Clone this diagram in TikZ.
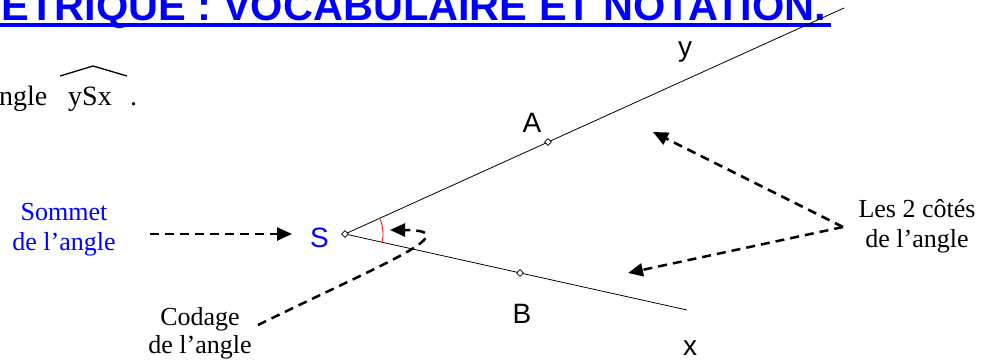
\documentclass[tikz,border=0pt]{standalone}
\usepackage{fontspec}
\setmainfont{Liberation Serif}
\newfontfamily\arial{Liberation Sans}
\usetikzlibrary{arrows.meta,shapes.geometric}
\definecolor{tblue}{RGB}{0,0,255}
\begin{document}
\begin{tikzpicture}[x=1pt,y=1pt,
  ray/.style={line width=0.8pt,black},
  pt/.style={draw,diamond,fill=white,inner sep=0pt,minimum size=7pt,line width=0.6pt},
  lab/.style={font=\arial\fontsize{28}{32}\selectfont,inner sep=0pt,anchor=base},
  txt/.style={font=\fontsize{26}{30}\selectfont,inner sep=0pt,anchor=base},
  dasharrow/.style={line width=2.5pt,dash pattern=on 9pt off 6pt,-{Triangle[length=15pt,width=13pt]}}]
\useasboundingbox (0,0) rectangle (995,360);
\clip (0,0) rectangle (995,360);
% title
\node[font=\arial\bfseries\fontsize{41.5}{45}\selectfont,text=tblue,inner sep=0pt,anchor=base east] (title) at (826,340) {ETRIQUE : VOCABULAIRE ET NOTATION.};
\draw[tblue,line width=4pt] (0,335) -- (831,335);
% notation line
\node[txt,font=\fontsize{28}{32}\selectfont,anchor=base west] (ngle) at (-1,255) {ngle};
\node[txt,font=\fontsize{28}{32}\selectfont,anchor=base west] (ysx) at (68,255) {ySx};
\node[txt,font=\fontsize{28}{32}\selectfont,anchor=base west] (dot) at (130,255) {.};
\draw[line width=1.3pt] (60,284) -- (93,294) -- (127,284);
% geometry
\coordinate (S) at (345,126);
\coordinate (Yend) at (844,352);
\coordinate (Xend) at (687,50);
\draw[ray] (S) -- (Yend);
\draw[ray] (S) -- (Xend);
\draw[red,line width=0.8pt] ([shift={(-12.5:38)}]S) arc[start angle=-12.5,end angle=24.4,radius=38];
\node[pt] (Sp) at (S) {};
\node[pt] (Ap) at (548,218) {};
\node[pt] (Bp) at (520,87) {};
\node[lab,text=tblue] (Slab) at (319.5,113) {S};
\node[lab] (Alab) at (532,228) {A};
\node[lab] (Blab) at (522,37) {B};
\node[lab] (xlab) at (690,5) {x};
\node[lab] (ylab) at (685,304) {y};
% texts
\node[txt,text=tblue] (som1) at (64,140) {Sommet};
\node[txt,text=tblue] (som2) at (64,110) {de l’angle};
\node[txt] (cod1) at (200,35) {Codage};
\node[txt] (cod2) at (200,7) {de l’angle};
\node[txt] (cot1) at (917,143) {Les 2 côtés};
\node[txt] (cot2) at (917,113) {de l’angle};
% arrows
\coordinate (somS) at (150,126);
\coordinate (somE) at (292,126);
\draw[dasharrow] (somS) -- (somE);
\coordinate (codS) at (258,35);
\coordinate (codE) at (390,130);
\draw[dasharrow] (codS) .. controls (380,95) and (470,130) .. (codE);
\coordinate (cotV) at (843,133);
\coordinate (cotA) at (653,228);
\coordinate (cotB) at (628,87);
\draw[dasharrow] (cotV) -- (cotA);
\draw[dasharrow] (cotV) -- (cotB);
\end{tikzpicture}
\end{document}
